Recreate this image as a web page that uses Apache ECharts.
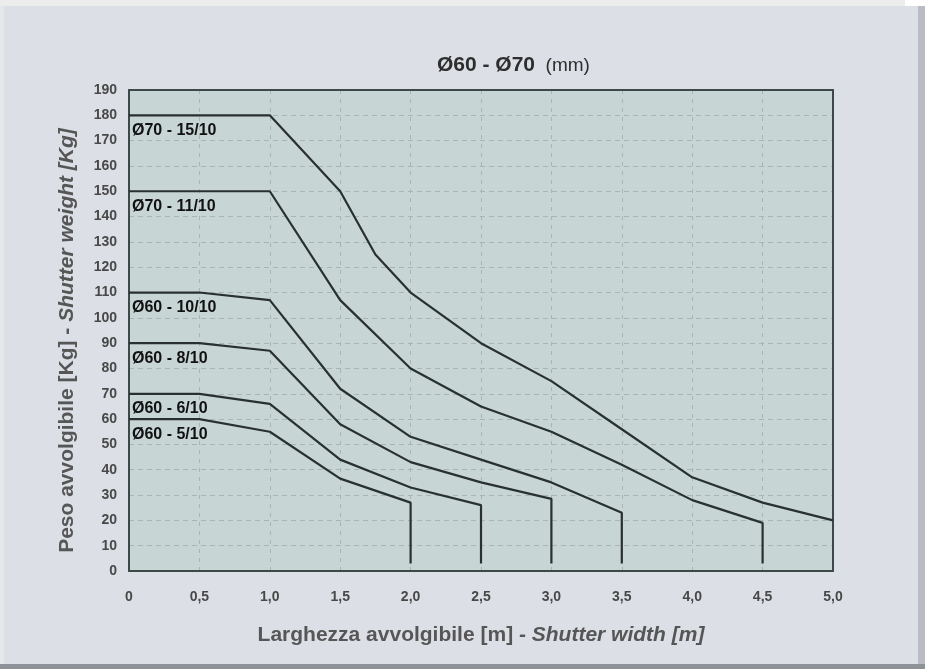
<!DOCTYPE html>
<html>
<head>
<meta charset="utf-8">
<script src="https://cdn.jsdelivr.net/npm/echarts@6/dist/echarts.min.js"></script>
<style>
html,body{margin:0;padding:0;background:#ffffff;}
#chart{width:925px;height:669px;}
</style>
</head>
<body>
<div id="chart"></div>
<script>
// ---- Data ----
const seriesNames = ['Ø70 - 15/10', 'Ø70 - 11/10', 'Ø60 - 10/10', 'Ø60 - 8/10', 'Ø60 - 6/10', 'Ø60 - 5/10'];

const w1510 = [0, 1.0, 1.5, 1.75, 2.0, 2.5, 3.0, 3.5, 4.0, 4.5, 5.0];
const p1510 = [180, 180, 150, 125, 110, 90, 75, 56, 37, 27, 20];

const w1110 = [0, 1.0, 1.5, 2.0, 2.5, 3.0, 3.5, 4.0, 4.5, 4.5];
const p1110 = [150, 150, 107, 80, 65, 55, 42, 28, 19, 3];

const w1010 = [0, 0.5, 1.0, 1.5, 2.0, 2.5, 3.0, 3.5, 3.5];
const p1010 = [110, 110, 107, 72, 53, 44, 35, 23, 3];

const w810 = [0, 0.5, 1.0, 1.5, 2.0, 2.5, 3.0, 3.0];
const p810 = [90, 90, 87, 58, 43, 35, 28.5, 3];

const w610 = [0, 0.5, 1.0, 1.5, 2.0, 2.5, 2.5];
const p610 = [70, 70, 66, 44, 33, 26, 3];

const w510 = [0, 0.5, 1.0, 1.5, 2.0, 2.0];
const p510 = [60, 60, 55, 36.5, 27, 3];

const widthsList = [w1510, w1110, w1010, w810, w610, w510];
const weightsList = [p1510, p1110, p1010, p810, p610, p510];

const xTitleA = 'Larghezza avvolgibile [m] - ';
const xTitleB = 'Shutter width [m]';
const yTitleA = 'Peso avvolgibile [Kg] - ';
const yTitleB = 'Shutter weight [Kg]';
const titleA = 'Ø60 - Ø70';
const titleB = '  (mm)';

// ---- Chart ----
const FONT = '"Liberation Sans", Arial, sans-serif';
const LINE = '#283030';
const BORDER = '#3f4848';

const series = seriesNames.map((name, i) => {
  const xs = widthsList[i], ys = weightsList[i];
  return {
    name: name,
    type: 'line',
    data: xs.map((x, k) => [x, ys[k]]),
    symbol: 'none',
    lineStyle: { color: LINE, width: 2.2 },
    itemStyle: { color: LINE },
    z: 5,
    silent: true,
    markPoint: {
      symbol: 'circle',
      symbolSize: 0,
      silent: true,
      data: [{
        coord: [xs[0], ys[0]],
        label: {
          show: true,
          formatter: name,
          position: 'right',
          distance: 3,
          offset: [0, 15],
          color: '#111',
          fontWeight: 'bold',
          fontSize: 16,
          fontFamily: FONT
        }
      }]
    }
  };
});

const titleRich = {
  a: { fontSize: 21, fontWeight: 'bold', color: '#565656', fontFamily: FONT },
  b: { fontSize: 21, fontWeight: 'bold', fontStyle: 'italic', color: '#565656', fontFamily: FONT }
};

const chart = echarts.init(document.getElementById('chart'), null, { renderer: 'canvas' });
chart.setOption({
  backgroundColor: '#dcdfe6',
  animation: false,
  textStyle: { fontFamily: FONT },
  graphic: [
    { type: 'rect', shape: { x: 0, y: 0, width: 905, height: 6 }, style: { fill: '#ececec' }, silent: true },
    { type: 'rect', shape: { x: 905, y: 0, width: 20, height: 6 }, style: { fill: '#ffffff' }, silent: true },
    { type: 'rect', shape: { x: 0, y: 6, width: 4, height: 663 }, style: { fill: '#e6e7ea' }, silent: true },
    { type: 'rect', shape: { x: 918, y: 6, width: 7, height: 663 }, style: { fill: '#b9bcc3' }, silent: true },
    { type: 'rect', shape: { x: 0, y: 664, width: 925, height: 5 }, style: { fill: '#8e9299' }, silent: true }
  ],
  title: {
    text: '{a|' + titleA + '}{b|' + titleB + '}',
    left: 432,
    top: 50,
    textStyle: {
      rich: {
        a: { fontSize: 21, fontWeight: 'bold', color: '#2e2e2e', fontFamily: FONT },
        b: { fontSize: 19, fontWeight: 'normal', color: '#2e2e2e', fontFamily: FONT }
      }
    }
  },
  grid: {
    left: 129, right: 92, top: 90, bottom: 98,
    show: true,
    backgroundColor: '#c8d5d5',
    borderColor: BORDER,
    borderWidth: 0
  },
  xAxis: [{
    type: 'value',
    min: 0, max: 5, interval: 0.5,
    axisLine: { show: true, onZero: false, lineStyle: { color: BORDER, width: 2 } },
    axisTick: { show: false },
    axisLabel: {
      margin: 19,
      color: '#484848',
      fontSize: 14,
      fontWeight: 'bold',
      fontFamily: FONT,
      formatter: v => (v === 0 ? '0' : v.toFixed(1).replace('.', ','))
    },
    splitLine: { show: true, lineStyle: { color: '#a7b5b5', type: [4, 5], width: 1 } },
    name: '{a|' + xTitleA + '}{b|' + xTitleB + '}',
    nameLocation: 'middle',
    nameGap: 54,
    nameTextStyle: { rich: titleRich }
  }, {
    type: 'value',
    position: 'top',
    min: 0, max: 5, interval: 0.5,
    axisLine: { show: true, onZero: false, lineStyle: { color: BORDER, width: 2 } },
    axisTick: { show: false },
    axisLabel: { show: false },
    splitLine: { show: false }
  }],
  yAxis: [{
    type: 'value',
    min: 0, max: 190, interval: 10,
    axisLine: { show: true, onZero: false, lineStyle: { color: BORDER, width: 2 } },
    axisTick: { show: false },
    axisLabel: {
      margin: 12,
      color: '#484848',
      fontSize: 14,
      fontWeight: 'bold',
      fontFamily: FONT
    },
    splitLine: { show: true, lineStyle: { color: '#a7b5b5', type: [5, 4], width: 1 } },
    name: '{a|' + yTitleA + '}{b|' + yTitleB + '}',
    nameLocation: 'middle',
    nameGap: 51,
    nameRotate: 90,
    nameTextStyle: { rich: titleRich, padding: [0, 20, 0, 0] }
  }, {
    type: 'value',
    position: 'right',
    min: 0, max: 190, interval: 10,
    axisLine: { show: true, onZero: false, lineStyle: { color: BORDER, width: 2 } },
    axisTick: { show: false },
    axisLabel: { show: false },
    splitLine: { show: false }
  }],
  series: series
});
</script>
</body>
</html>
